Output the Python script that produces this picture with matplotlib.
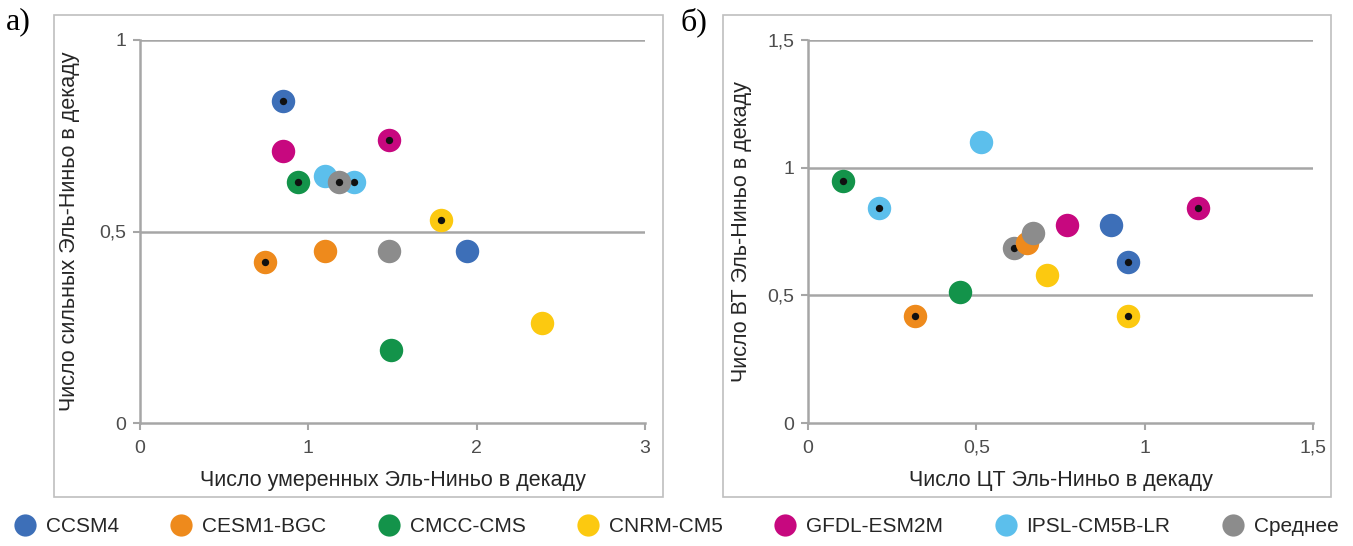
import matplotlib
matplotlib.use('Agg')
import matplotlib.pyplot as plt
from matplotlib import font_manager
from matplotlib.patches import Rectangle
from matplotlib.lines import Line2D


def pick_font(names):
    have = set(f.name for f in font_manager.fontManager.ttflist)
    for n in names:
        if n in have:
            return n
    return 'DejaVu Sans'


sans = pick_font(['Liberation Sans Narrow', 'Liberation Sans', 'DejaVu Sans'])
serif = pick_font(['Liberation Serif', 'DejaVu Serif'])
plt.rcParams['font.family'] = [sans, 'DejaVu Sans']

models = ['CCSM4', 'CESM1-BGC', 'CMCC-CMS', 'CNRM-CM5', 'GFDL-ESM2M', 'IPSL-CM5B-LR', 'Среднее']
colors = ['#3d6fb8', '#ee8a1c', '#13934a', '#fcc910', '#c7087f', '#5cbfec', '#8c8c8c']

# а) умеренные / сильные
a_x_plain = [1.94, 1.10, 1.49, 2.39, 0.85, 1.10, 1.48]
a_y_plain = [0.45, 0.45, 0.19, 0.26, 0.71, 0.645, 0.45]
a_x_dot = [0.85, 0.74, 0.94, 1.79, 1.48, 1.27, 1.18]
a_y_dot = [0.84, 0.42, 0.63, 0.53, 0.74, 0.63, 0.63]

# б) ЦТ / ВТ
b_x_plain = [0.90, 0.65, 0.45, 0.71, 0.77, 0.515, 0.668]
b_y_plain = [0.775, 0.705, 0.515, 0.58, 0.775, 1.10, 0.745]
b_x_dot = [0.95, 0.318, 0.104, 0.95, 1.157, 0.211, 0.611]
b_y_dot = [0.63, 0.42, 0.948, 0.42, 0.842, 0.842, 0.685]

W, H = 1353, 546
fig = plt.figure(figsize=(W / 100, H / 100), dpi=100)

GRID = '#a6a6a6'
MS = 285   # marker area
DS = 28    # black centre dot


def fx(px):
    return px / W


def fy(py):
    return 1 - py / H


def fmt(v):
    return str(v).replace('.', ',') if v % 1 else str(int(v))


def panel(rect, xs0, ys0, xs1, ys1, xlim, ylim, xt, yt, xlabel, ylabel, dots_first, ylab_x):
    ax = fig.add_axes(rect)
    z = 3
    if dots_first:
        for i in range(len(models)):
            ax.scatter(xs1[i], ys1[i], s=MS, color=colors[i], linewidths=0, zorder=z)
            ax.scatter(xs1[i], ys1[i], s=DS, color='#111111', linewidths=0, zorder=z + 0.5)
            z += 1
        for i in range(len(models)):
            ax.scatter(xs0[i], ys0[i], s=MS, color=colors[i], linewidths=0, zorder=z)
            z += 1
    else:
        for i in range(len(models)):
            ax.scatter(xs0[i], ys0[i], s=MS, color=colors[i], linewidths=0, zorder=z)
            z += 1
            ax.scatter(xs1[i], ys1[i], s=MS, color=colors[i], linewidths=0, zorder=z)
            ax.scatter(xs1[i], ys1[i], s=DS, color='#111111', linewidths=0, zorder=z + 0.5)
            z += 1
    ax.set_xlim(*xlim)
    ax.set_ylim(*ylim)
    ax.set_xticks(xt)
    ax.set_yticks(yt)
    ax.set_xticklabels([fmt(v) for v in xt])
    ax.set_yticklabels([fmt(v) for v in yt])
    for s in ['top', 'right']:
        ax.spines[s].set_visible(False)
    for s in ['left', 'bottom']:
        ax.spines[s].set_color(GRID)
        ax.spines[s].set_linewidth(1.8)
    for v in yt[1:]:
        ax.axhline(v, color=GRID, lw=1.8, zorder=1)
    ax.tick_params(axis='both', colors=GRID, length=5, width=1.5, labelsize=14,
                   labelcolor='#4d4d4d')
    ax.tick_params(axis='x', pad=7)
    ax.tick_params(axis='y', pad=5)
    ax.set_xlabel(xlabel, fontsize=15.5, color='#262626')
    ax.set_ylabel(ylabel, fontsize=15.5, color='#262626')
    ax.xaxis.set_label_coords(0.5, -0.123)
    ax.yaxis.set_label_coords(ylab_x, 0.5)
    return ax


ax_a = panel([fx(140), fy(423), fx(645) - fx(140), fy(40) - fy(423)],
             a_x_plain, a_y_plain, a_x_dot, a_y_dot,
             (0, 3), (0, 1), [0, 1, 2, 3], [0, 0.5, 1],
             'Число умеренных Эль-Ниньо в декаду', 'Число сильных Эль-Ниньо в декаду',
             False, -0.119)
ax_b = panel([fx(808), fy(423), fx(1313) - fx(808), fy(40) - fy(423)],
             b_x_plain, b_y_plain, b_x_dot, b_y_dot,
             (0, 1.5), (0, 1.5), [0, 0.5, 1, 1.5], [0, 0.5, 1, 1.5],
             'Число ЦТ Эль-Ниньо в декаду', 'Число ВТ Эль-Ниньо в декаду',
             True, -0.111)

# рамки панелей
for x0, x1 in [(54, 663), (723, 1331)]:
    fig.patches.append(Rectangle((fx(x0), fy(497)), fx(x1) - fx(x0), fy(15) - fy(497),
                                 transform=fig.transFigure, fill=False,
                                 edgecolor='#bfbfbf', lw=1.2))

fig.text(fx(6), fy(22), 'а)', fontsize=23, family=serif, va='center', ha='left')
fig.text(fx(680), fy(22), 'б)', fontsize=23, family=serif, va='center', ha='left')

handles = [Line2D([], [], marker='o', ls='none', markersize=16, color=c, markeredgewidth=0)
           for c in colors]
fig.legend(handles, models, loc='center', bbox_to_anchor=(0.5, fy(527)), ncol=7,
           frameon=False, fontsize=15, handletextpad=0.5, columnspacing=2.5,
           handlelength=1.0, labelcolor='#262626')

fig.savefig('out.png', dpi=100, facecolor='white')
